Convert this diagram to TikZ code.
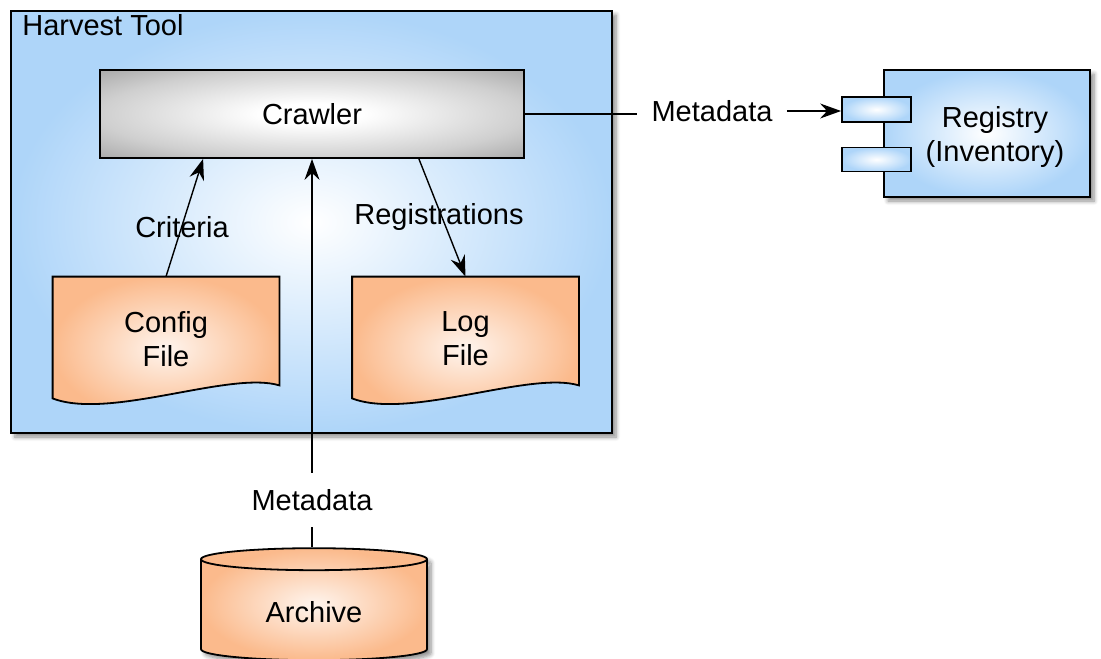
\documentclass[tikz,border=0pt]{standalone}
\usepackage{fontspec}
\setmainfont{Liberation Sans}
\usetikzlibrary{arrows.meta,shapes.geometric,shadows.blur}

\definecolor{toolblue}{RGB}{174,213,249}
\definecolor{crawlgray}{RGB}{168,168,168}
\definecolor{fileorange}{RGB}{251,186,140}

\pgfdeclareradialshading{crawlshade}{\pgfpointorigin}{color(0bp)=(white); color(6bp)=(white);
    color(25bp)=(crawlgray!55); color(36bp)=(crawlgray); color(50bp)=(crawlgray)}

\tikzset{
    every node/.style={font=\fontsize{14.5}{17}\selectfont},
    bluebox/.style={draw, line width=0.9pt, inner color=white, outer color=toolblue},
    graybox/.style={draw, line width=0.9pt, shading=crawlshade},
    docfile/.style={draw, line width=0.9pt, inner color=white!85!fileorange, outer color=fileorange},
    softshadow/.style={blur shadow={shadow xshift=2pt, shadow yshift=-2pt, shadow blur steps=6, shadow opacity=45}},
    flow/.style={line width=0.7pt, -{Stealth[length=10.5pt,width=7.5pt,inset=3.5pt]}},
    plain/.style={line width=0.7pt}
}

\begin{document}
\begin{tikzpicture}[x=0.5pt, y=-0.5pt]
    \useasboundingbox (0,0) rectangle (1101,658);

    % the tool with everything inside it
    \node[bluebox, softshadow, minimum width=300.5pt, minimum height=211pt] (harvest) at (311.5,222) {};
    \node[anchor=west, inner sep=0pt] (htitle) at (22,25) {Harvest Tool};

    \node[graybox, minimum width=212pt, minimum height=44pt] (crawler) at (312,114) {Crawler};

    % files with a wavy bottom
    \node[minimum width=113pt, minimum height=62pt, align=center] (config) at (166,339) {};
    \node[minimum width=113pt, minimum height=62pt, align=center] (logf) at (465.5,339) {};
    \foreach \f in {config,logf}
        \shade[docfile] (\f.north west) -- (\f.north east) -- ([yshift=8pt]\f.south east)
            .. controls ([xshift=-24.5pt,yshift=15.5pt]\f.south east) and ([xshift=28.5pt,yshift=-9.5pt]\f.south west) ..
            ([yshift=1.5pt]\f.south west) -- cycle;
    \node[align=center] at (config) {Config\\File};
    \node[align=center] at (logf) {Log\\File};

    \node (criteria) at (182,227) {Criteria};
    \node (regs) at (439,217) {Registrations};
    \draw[flow] (config.north) -- ([xshift=52pt]crawler.south west);
    \draw[flow] ([xshift=-53pt]crawler.south east) -- (logf.north);

    % archive below
    \node[cylinder, shape border rotate=90, shape aspect=0.2, bluebox, inner color=white!85!fileorange, outer color=fileorange,
          softshadow, minimum width=113pt, minimum height=56pt] (archive) at (314,612) {Archive};
    \node[inner xsep=4pt, inner ysep=8pt] (meta2) at (312,500) {Metadata};
    \draw[plain] (archive.north -| meta2) -- (meta2);
    \draw[flow] (meta2) -- (crawler.south);

    % registry component
    \node[bluebox, softshadow, minimum width=103pt, minimum height=63.5pt] (registry) at (987,133.5) {};
    \node[align=center] (regtext) at (995,137) {Registry\\(Inventory)};
    \node[bluebox, minimum width=34.5pt, minimum height=12.5pt, inner sep=0pt] (port1) at (876.5,109.5) {};
    \node[bluebox, minimum width=34.5pt, minimum height=12pt, inner sep=0pt] (port2) at (876.5,159.5) {};

    \node[inner xsep=7pt] (meta1) at (712,111) {Metadata};
    \draw[plain] (crawler.east) -- (crawler.east -| meta1.west);
    \draw[flow] (meta1.east) -- (meta1.east -| port1.west);
\end{tikzpicture}
\end{document}
